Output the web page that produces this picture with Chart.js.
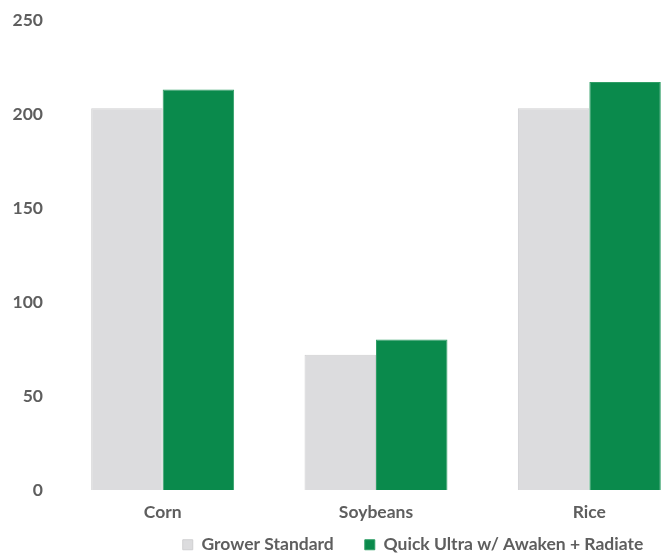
<!DOCTYPE html>
<html>
<head>
<meta charset="utf-8">
<script src="https://cdn.jsdelivr.net/npm/chart.js@4/dist/chart.umd.min.js"></script>
<style>
  html, body { margin: 0; padding: 0; background: #fff; overflow: hidden; }
  .chart_wrap { position: relative; width: 696px; height: 556px; }
</style>
</head>
<body>
<div class="chart_wrap">
  <canvas id="yield_canvas"></canvas>
</div>
<script>
const categories = ["Corn", "Soybeans", "Rice"];
const seriesNames = ["Grower Standard", "Quick Ultra w/ Awaken + Radiate"];
const growerValues = [203, 72, 203];
const quickValues = [213, 80, 217];
const yTicks = [0, 50, 100, 150, 200, 250];

const textColor = "#5e5e5e";
const font = { family: "Lato", weight: "bold", size: 17.5 };

// the legend keeps a wide gap between items, but should not eat the plot height,
// and it sits right of centre like the original
const legendTweak = {
  id: "legendTweak",
  beforeLayout(chart) {
    const lg = chart.legend;
    if (lg && !lg._tweaked) {
      const fit = lg.fit.bind(lg);
      lg.fit = function () { fit(); this.height = 21; };
      lg._tweaked = true;
    }
  },
  afterLayout(chart) {
    const lg = chart.legend;
    lg.left += 65;
    lg.right += 65;
    lg.top = 505;
    lg.bottom = 556;
  }
};

let ctx = document.getElementById("yield_canvas");
new Chart(ctx, {
  type: "bar",
  data: {
    labels: categories,
    datasets: [
      {
        label: seriesNames[0],
        data: growerValues,
        backgroundColor: "#dcdcde",
        borderColor: "#cfcfd1",
        borderWidth: 1
      },
      {
        label: seriesNames[1],
        data: quickValues,
        backgroundColor: "#0a8a4c",
        borderColor: "#2f9e66",
        borderWidth: 1
      }
    ]
  },
  options: {
    responsive: true,
    maintainAspectRatio: false,
    animation: false,
    layout: { padding: { top: 20, left: 0, right: 0, bottom: 0 } },
    datasets: {
      bar: { categoryPercentage: 0.67, barPercentage: 1 }
    },
    scales: {
      x: {
        grid: { display: false, drawTicks: false },
        border: { display: false },
        ticks: { color: textColor, font: font, padding: 12 }
      },
      y: {
        min: 0,
        max: 250,
        afterFit(scale) { scale.width = 56; scale.paddingTop = 0; },
        afterBuildTicks(scale) { scale.ticks = yTicks.map(v => ({ value: v })); },
        grid: { display: false, drawTicks: false },
        border: { display: false },
        ticks: { color: textColor, font: font, padding: 13 }
      }
    },
    plugins: {
      legend: {
        position: "bottom",
        labels: {
          color: textColor,
          font: font,
          boxWidth: 10,
          boxHeight: 10,
          padding: 31,
          useBorderRadius: false
        }
      },
      tooltip: { enabled: false }
    }
  },
  plugins: [legendTweak]
});
</script>
</body>
</html>
